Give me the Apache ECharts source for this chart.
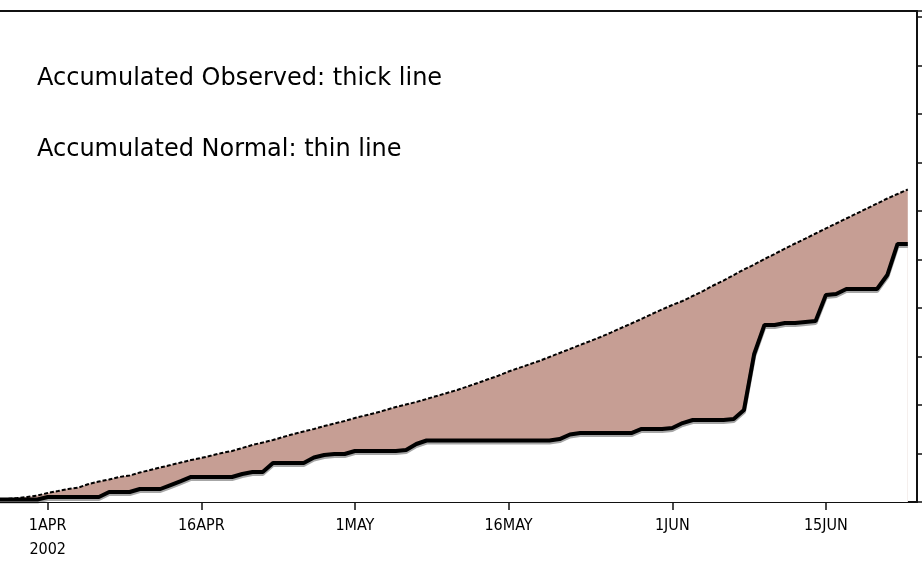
<!DOCTYPE html>
<html>
<head>
<meta charset="utf-8">
<script src="https://cdn.jsdelivr.net/npm/echarts@6.0.0/dist/echarts.min.js"></script>
<style>
  html, body { margin: 0; padding: 0; background: #fff; }
  #chart { width: 922px; height: 570px; }
</style>
</head>
<body>
<div id="chart"></div>
<script>
// Day offsets are counted from 1 APR 2002 (day 0); the series start on 27 MAR.
const firstDay = -5;

// Accumulated observed (thick line), one value per day
const observed = [
  2.6, 2.6, 2.6, 2.6, 2.6,
  5.2, 5.2, 5.2, 5.2, 5.2, 5.2,
  10.3, 10.3, 10.3,
  13.4, 13.4, 13.4,
  17.5, 21.6,
  25.8, 25.8, 25.8, 25.8, 25.8,
  28.9, 30.9, 30.9,
  40.2, 40.2, 40.2, 40.2,
  45.9, 48.5, 49.5, 49.5,
  52.6, 52.6, 52.6, 52.6, 52.6,
  53.6, 59.8,
  63.4, 63.4, 63.4, 63.4, 63.4, 63.4, 63.4, 63.4, 63.4, 63.4, 63.4, 63.4, 63.4,
  64.9, 69.6,
  71.1, 71.1, 71.1, 71.1, 71.1, 71.1,
  75.3, 75.3, 75.3, 76.3,
  81.4, 84.5, 84.5, 84.5, 84.5, 85.6,
  94.8, 152.6, 182.5, 182.5, 184.5, 184.5, 185.6, 186.6,
  213.4, 214.4, 219.6, 219.6, 219.6, 219.6,
  234.0, 266.0, 266.0
];

// Accumulated normal (thin line), one value per day
const normal = [
  2.6, 3.1, 4.1, 5.2, 6.7, 9.3, 11.3, 13.4, 14.9, 18.6,
  21.1, 23.2, 25.8, 27.3, 30.4, 33.0, 35.6, 38.1, 40.7, 43.3,
  45.4, 47.9, 50.5, 52.6, 55.7, 58.8, 61.3, 63.9, 67.0, 70.1,
  72.7, 75.3, 78.3, 80.9, 83.5, 86.6, 89.2, 91.8, 94.8, 97.9,
  100.5, 103.1, 106.2, 109.3, 112.4, 115.5, 119.1, 122.7, 126.5, 130.2,
  134.5, 138.1, 141.8, 145.4, 149.5, 153.6, 157.7, 161.9, 166.0, 170.1,
  174.7, 179.4, 184.0, 188.7, 193.8, 198.5, 203.1, 207.2, 212.4, 217.5,
  223.2, 228.3, 234.0, 239.7, 244.8, 250.5, 255.7, 261.3, 266.5, 271.6,
  276.8, 282.0, 287.1, 292.3, 297.4, 302.6, 307.7, 312.9, 317.5, 322.2
];

// x-axis ticks (day offsets) and their labels
const tickDays = [0, 15, 30, 45, 61, 76];
const tickLabels = ['1APR\n2002', '16APR', '1MAY', '16MAY', '1JUN', '15JUN'];

const legendLines = ['Accumulated Observed: thick line', 'Accumulated Normal: thin line'];

const days = observed.map((_, i) => firstDay + i);
const obsPoints = days.map((d, i) => [d, observed[i]]);
const normPoints = days.map((d, i) => [d, normal[i]]);

const AXIS = '#111';
const FILL = '#c69e94';

const chart = echarts.init(document.getElementById('chart'), null, { renderer: 'canvas' });

chart.setOption({
  animation: false,
  backgroundColor: '#fff',
  grid: { left: 0, right: 5, top: 11, bottom: 68 },
  xAxis: [
    {
      type: 'value',
      min: -4.66,
      max: 84.9,
      position: 'bottom',
      splitLine: { show: false },
      axisLine: { onZero: false, lineStyle: { color: AXIS, width: 2 } },
      axisTick: {
        customValues: tickDays,
        length: 8,
        lineStyle: { color: AXIS, width: 1.5 }
      },
      axisLabel: {
        customValues: tickDays,
        margin: 12,
        formatter: v => tickLabels[tickDays.indexOf(v)] || '',
        fontFamily: '"Liberation Sans Narrow", "DejaVu Sans Condensed", "Liberation Sans", sans-serif',
        fontSize: 16,
        lineHeight: 24,
        color: '#000'
      }
    },
    {
      // top frame line
      type: 'value',
      min: -4.66,
      max: 84.9,
      position: 'top',
      splitLine: { show: false },
      axisLine: { onZero: false, lineStyle: { color: AXIS, width: 2 } },
      axisTick: { show: false },
      axisLabel: { show: false }
    }
  ],
  yAxis: {
    type: 'value',
    position: 'right',
    min: 0,
    max: 506.2,
    interval: 50,
    splitLine: { show: false },
    axisLine: { show: true, onZero: false, lineStyle: { color: AXIS, width: 2 } },
    axisTick: { show: true, length: 8, lineStyle: { color: AXIS, width: 1.5 } },
    axisLabel: { show: false }
  },
  graphic: legendLines.map((t, i) => ({
    type: 'text',
    left: 37,
    top: 67 + i * 71,
    style: { text: t, font: '24px "DejaVu Sans"', fill: '#000' }
  })),
  series: [
    {
      // normal curve filled down to the axis...
      type: 'line',
      data: normPoints,
      symbol: 'none',
      lineStyle: { opacity: 0 },
      areaStyle: { color: FILL, opacity: 1 },
      silent: true,
      z: 1
    },
    {
      // ...and cleared again below the observed curve, leaving the gap shaded
      type: 'line',
      data: obsPoints,
      symbol: 'none',
      lineStyle: { opacity: 0 },
      areaStyle: { color: '#fff', opacity: 1 },
      silent: true,
      z: 2
    },
    {
      name: 'Normal',
      type: 'line',
      data: normPoints,
      symbol: 'none',
      lineStyle: { color: '#000', width: 2, type: [4, 2] },
      z: 3
    },
    {
      name: 'Observed',
      type: 'line',
      data: obsPoints,
      symbol: 'none',
      lineStyle: {
        color: '#000',
        width: 4,
        shadowColor: 'rgba(0,0,0,0.35)',
        shadowOffsetY: 2,
        shadowBlur: 0
      },
      z: 4
    }
  ]
});
</script>
</body>
</html>
